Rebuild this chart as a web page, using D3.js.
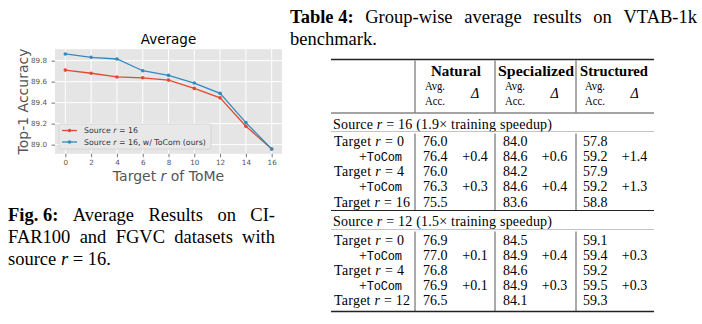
<!DOCTYPE html>
<html>
<head>
<meta charset="utf-8">
<script src="https://cdn.jsdelivr.net/npm/d3@7"></script>
<style>
  body { margin: 0; background: #fff; }
  svg { display: block; }
  .serif { font-family: "Liberation Serif", "Times New Roman", serif; fill: #000; }
  .sans { font-family: "DejaVu Sans", sans-serif; }
</style>
</head>
<body>
<div id="fig"></div>
<script>
// ---- chart data ----
var targetR   = [0, 2, 4, 6, 8, 10, 12, 14, 16];
var sourceAcc = [89.710, 89.680, 89.645, 89.637, 89.615, 89.536, 89.446, 89.175, 88.958];
var tocomAcc  = [89.864, 89.832, 89.816, 89.704, 89.660, 89.587, 89.488, 89.210, 88.958];
var xTicks = [0, 2, 4, 6, 8, 10, 12, 14, 16];
var yTicks = [89.0, 89.2, 89.4, 89.6, 89.8];
var seriesColors = ["#E24A33", "#348ABD"];

// ---- table data ----
var groups = ["Natural", "Specialized", "Structured"];
var sourceR = [16, 12];
var speedup = ["1.9", "1.5"];
var targets = [[0, 4, 16], [0, 4, 12]];
var rowKind = ["target", "tocom", "target", "tocom", "target"];
var acc16 = [[76.0, 84.0, 57.8], [76.4, 84.6, 59.2], [76.0, 84.2, 57.9], [76.3, 84.6, 59.2], [75.5, 83.6, 58.8]];
var delta16 = [null, [0.4, 0.6, 1.4], null, [0.3, 0.4, 1.3], null];
var acc12 = [[76.9, 84.5, 59.1], [77.0, 84.9, 59.4], [76.8, 84.6, 59.2], [76.9, 84.9, 59.5], [76.5, 84.1, 59.3]];
var delta12 = [null, [0.1, 0.4, 0.3], null, [0.1, 0.3, 0.3], null];

var svg = d3.select("#fig").append("svg")
    .attr("width", 702)
    .attr("height", 324);

// append text made of styled parts: [text, "i"|"b"|"m"|""]
function rich(sel, parts) {
    parts.forEach(function(p) {
        var t = sel.append("tspan").text(p[0]);
        if (p[1] == "i") t.attr("font-style", "italic");
        if (p[1] == "b") t.attr("font-weight", "bold");
        if (p[1] == "m") t.attr("font-family", "'Liberation Mono', 'DejaVu Sans Mono', monospace")
            .attr("font-size", "0.86em");
    });
    return sel;
}

// justified caption line: spread words between x0 and x1
function justify(g, x0, x1, y, words, size) {
    var nodes = words.map(function(w) {
        return rich(g.append("text").attr("class", "serif").attr("font-size", size).attr("y", y), w);
    });
    var widths = nodes.map(function(n) { return n.node().getComputedTextLength(); });
    var gap = (x1 - x0 - d3.sum(widths)) / (words.length - 1);
    var x = x0;
    nodes.forEach(function(n, i) {
        n.attr("x", x);
        x += widths[i] + gap;
    });
}

// pad extent like matplotlib margins
function pad(ext) {
    var m = (ext[1] - ext[0]) * 0.05;
    return [ext[0] - m, ext[1] + m];
}

drawChart();
drawCaptions();
drawTable();

// Line chart
function drawChart() {
    var L = 55, R = 282, T = 49.2, B = 153.8;
    var x = d3.scaleLinear().domain(pad(d3.extent(targetR))).range([L, R]);
    var y = d3.scaleLinear().domain(pad(d3.extent(sourceAcc.concat(tocomAcc)))).range([B, T]);
    var g = svg.append("g").attr("class", "sans");

    g.append("rect").attr("x", L).attr("y", T).attr("width", R - L).attr("height", B - T)
        .attr("fill", "#E5E5E5");

    // grid
    g.append("g").selectAll("line").data(xTicks).enter().append("line")
        .attr("x1", function(d) { return x(d); }).attr("x2", function(d) { return x(d); })
        .attr("y1", T).attr("y2", B).attr("stroke", "#fff").attr("stroke-width", 1);
    g.append("g").selectAll("line").data(yTicks).enter().append("line")
        .attr("y1", function(d) { return y(d); }).attr("y2", function(d) { return y(d); })
        .attr("x1", L).attr("x2", R).attr("stroke", "#fff").attr("stroke-width", 1);

    // axes
    var xa = g.append("g").attr("transform", "translate(0," + B + ")")
        .call(d3.axisBottom(x).tickValues(xTicks).tickSize(3.5).tickPadding(2.5));
    var ya = g.append("g").attr("transform", "translate(" + L + ",0)")
        .call(d3.axisLeft(y).tickValues(yTicks).tickFormat(d3.format(".1f")).tickSize(3.5).tickPadding(4.5));
    [xa, ya].forEach(function(a) {
        a.select(".domain").remove();
        a.selectAll(".tick line").attr("stroke", "#555").attr("stroke-width", 0.8);
        a.selectAll(".tick text").attr("fill", "#555").attr("font-size", 7.2)
            .attr("font-family", "DejaVu Sans");
    });

    // series
    var line = d3.line()
        .x(function(d, i) { return x(targetR[i]); })
        .y(function(d) { return y(d); });
    [sourceAcc, tocomAcc].forEach(function(s, k) {
        g.append("path").attr("d", line(s)).attr("fill", "none")
            .attr("stroke", seriesColors[k]).attr("stroke-width", 1.3);
        g.append("g").selectAll("circle").data(s).enter().append("circle")
            .attr("cx", function(d, i) { return x(targetR[i]); })
            .attr("cy", function(d) { return y(d); })
            .attr("r", 1.8).attr("fill", seriesColors[k]);
    });

    // title and labels
    g.append("text").attr("x", (L + R) / 2).attr("y", 44).attr("text-anchor", "middle")
        .attr("font-size", 13.5).attr("fill", "#000").text("Average");
    g.append("text").attr("transform", "translate(23," + ((T + B) / 2) + ") rotate(-90)")
        .attr("text-anchor", "middle").attr("dy", "0.36em")
        .attr("font-size", 14).attr("fill", "#555").text("Top-1 Accuracy");
    rich(g.append("text").attr("x", (L + R) / 2).attr("y", 181).attr("text-anchor", "middle")
        .attr("font-size", 14).attr("fill", "#555"),
        [["Target ", ""], ["r", "i"], [" of ToMe", ""]]);

    // legend
    var lg = g.append("g");
    lg.append("rect").attr("x", 59).attr("y", 124).attr("width", 152).attr("height", 25)
        .attr("rx", 2).attr("fill", "#E8E8E8").attr("stroke", "#D0D0D0").attr("stroke-width", 0.8);
    var labels = [
        [["Source ", ""], ["r", "i"], [" = 16", ""]],
        [["Source ", ""], ["r", "i"], [" = 16, w/ ToCom (ours)", ""]]
    ];
    labels.forEach(function(lab, k) {
        var ly = 130.5 + k * 11.5;
        lg.append("line").attr("x1", 62).attr("x2", 77).attr("y1", ly).attr("y2", ly)
            .attr("stroke", seriesColors[k]).attr("stroke-width", 1.3);
        lg.append("circle").attr("cx", 69.5).attr("cy", ly).attr("r", 1.8).attr("fill", seriesColors[k]);
        rich(lg.append("text").attr("x", 84).attr("y", ly + 2.7).attr("font-size", 7.8)
            .attr("fill", "#333"), lab);
    });
}

// Captions
function drawCaptions() {
    var g = svg.append("g");
    justify(g, 8, 275, 221, [[["Fig. 6:", "b"]], [["Average", ""]], [["Results", ""]], [["on", ""]], [["CI-", ""]]], 18.5);
    justify(g, 8, 275, 243, [[["FAR100", ""]], [["and", ""]], [["FGVC", ""]], [["datasets", ""]], [["with", ""]]], 18.5);
    rich(g.append("text").attr("class", "serif").attr("font-size", 18.5).attr("x", 8).attr("y", 265),
        [["source ", ""], ["r", "i"], [" = 16.", ""]]);

    justify(g, 290, 697, 23, [[["Table 4:", "b"]], [["Group-wise", ""]], [["average", ""]], [["results", ""]],
        [["on", ""]], [["VTAB-1k", ""]]], 18.5);
    g.append("text").attr("class", "serif").attr("font-size", 18.5).attr("x", 290).attr("y", 45)
        .text("benchmark.");
}

// Table
function drawTable() {
    var g = svg.append("g").attr("class", "serif");
    var x0 = 331, x1 = 654;
    var vlines = [415, 495, 576];
    var groupX = [456, 536, 614];
    var groupW = [50, 76, 68];
    var accX = [423, 503, 583];
    var deltaX = [475, 554.5, 634.5];

    function rule(yy, w, c) {
        g.append("line").attr("x1", x0).attr("x2", x1).attr("y1", yy).attr("y2", yy)
            .attr("stroke", c).attr("stroke-width", w);
    }
    function vl(ya, yb) {
        vlines.forEach(function(v) {
            g.append("line").attr("x1", v).attr("x2", v).attr("y1", ya).attr("y2", yb)
                .attr("stroke", "#444").attr("stroke-width", 0.9);
        });
    }

    rule(59.5, 1.4, "#222");
    rule(113, 0.9, "#333");
    vl(60.5, 112.5);

    // header
    groups.forEach(function(name, i) {
        g.append("text").attr("x", groupX[i]).attr("y", 75.5).attr("text-anchor", "middle")
            .attr("font-size", 14).attr("font-weight", "bold")
            .attr("textLength", groupW[i]).attr("lengthAdjust", "spacingAndGlyphs").text(name);
        g.append("text").attr("x", accX[i] + 2).attr("y", 89.5).attr("font-size", 12)
            .attr("textLength", 20).attr("lengthAdjust", "spacingAndGlyphs").text("Avg.");
        g.append("text").attr("x", accX[i] + 2).attr("y", 104.5).attr("font-size", 12)
            .attr("textLength", 20).attr("lengthAdjust", "spacingAndGlyphs").text("Acc.");
        g.append("text").attr("x", deltaX[i]).attr("y", 98).attr("text-anchor", "middle")
            .attr("font-size", 14).attr("font-style", "italic").text("Δ");
    });

    var blocks = [
        {src: 128.5, r1: 131.5, rows: d3.scaleLinear().domain([0, 4]).range([146.2, 206.5]), end: 210.5, acc: acc16, delta: delta16},
        {src: 226, r1: 229.5, rows: d3.scaleLinear().domain([0, 4]).range([244.5, 305.3]), end: 311.5, acc: acc12, delta: delta12}
    ];
    blocks.forEach(function(b, k) {
        rich(g.append("text").attr("x", 333).attr("y", b.src).attr("font-size", 14)
            .attr("textLength", 219).attr("lengthAdjust", "spacing"),
            [["Source ", ""], ["r", "i"], [" = " + sourceR[k] + " (" + speedup[k] + "× training speedup)", ""]]);
        rule(b.r1, 0.7, "#aaa");
        vl(b.r1 + 2, b.end - 0.5);
        var t = 0;
        rowKind.forEach(function(kind, i) {
            var yy = b.rows(i);
            if (kind == "target") {
                var tl = targets[k][t] >= 10 ? 76 : 70;
                rich(g.append("text").attr("x", 334).attr("y", yy).attr("font-size", 14)
                    .attr("textLength", tl).attr("lengthAdjust", "spacing"),
                    [["Target ", ""], ["r", "i"], [" = " + targets[k][t], ""]]);
                t++;
            } else {
                rich(g.append("text").attr("x", 359).attr("y", yy).attr("font-size", 14)
                    .attr("textLength", 43).attr("lengthAdjust", "spacing"),
                    [["+", ""], ["ToCom", "m"]]);
            }
            b.acc[i].forEach(function(v, j) {
                g.append("text").attr("x", accX[j]).attr("y", yy).attr("font-size", 14)
                    .text(v.toFixed(1));
                if (b.delta[i])
                    g.append("text").attr("x", deltaX[j]).attr("y", yy).attr("font-size", 14)
                        .attr("text-anchor", "middle").text("+" + b.delta[i][j].toFixed(1));
            });
        });
        rule(b.end, k == 0 ? 1.0 : 1.4, "#222");
    });
}
</script>
</body>
</html>
